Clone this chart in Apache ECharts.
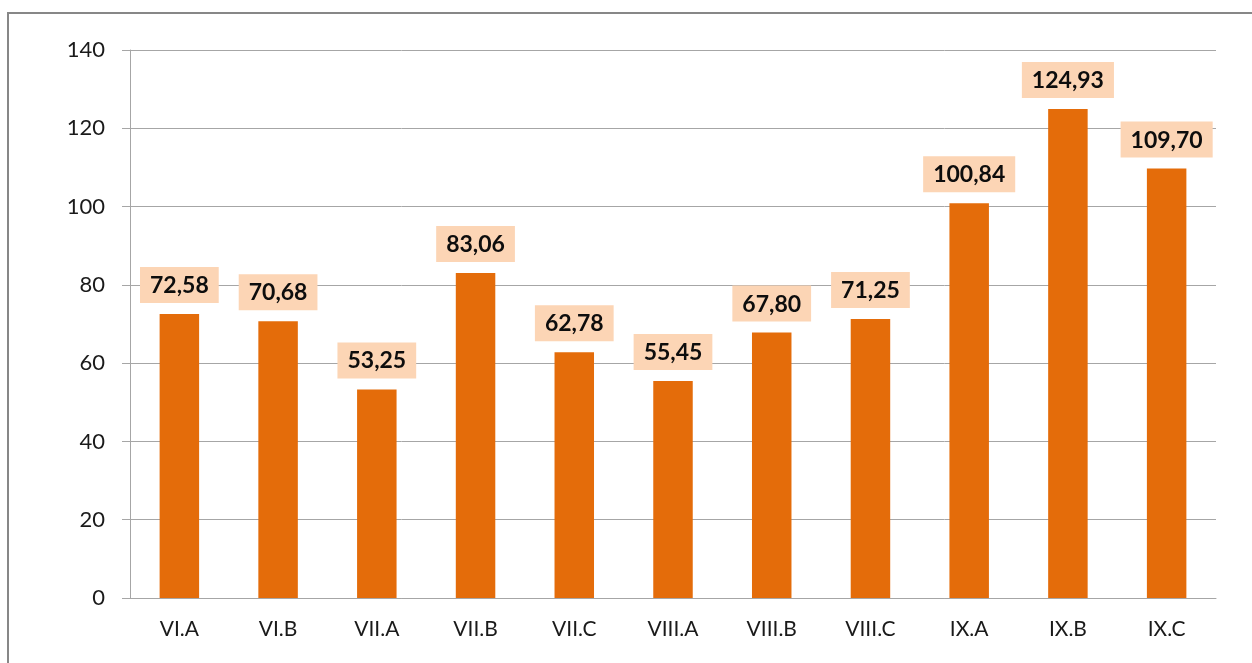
<!DOCTYPE html>
<html>
<head>
<meta charset="utf-8">
<script src="https://cdn.jsdelivr.net/npm/echarts@6/dist/echarts.min.js"></script>
<style>
  html, body { margin: 0; padding: 0; background: #fff; }
  #chart { width: 1252px; height: 663px; }
</style>
</head>
<body>
<div id="chart"></div>
<script>
const categories = ['VI.A', 'VI.B', 'VII.A', 'VII.B', 'VII.C', 'VIII.A', 'VIII.B', 'VIII.C', 'IX.A', 'IX.B', 'IX.C']
const values = [72.58, 70.68, 53.25, 83.06, 62.78, 55.45, 67.80, 71.25, 100.84, 124.93, 109.70]
const yTicks = [0, 20, 40, 60, 80, 100, 120, 140]

const font = 'Lato, "Open Sans", sans-serif'
const chart = echarts.init(document.getElementById('chart'))

chart.setOption({
  animation: false,
  graphic: [{
    type: 'rect',
    shape: { x: 8, y: 13, width: 1400, height: 800 },
    style: { fill: 'none', stroke: '#878787', lineWidth: 2 },
    silent: true
  }],
  grid: { left: 130, right: 36, top: 50, bottom: 65 },
  xAxis: {
    type: 'category',
    data: categories,
    axisLine: { lineStyle: { color: '#a6a6a6', width: 1 } },
    axisTick: { length: 8, lineStyle: { color: '#a6a6a6' } },
    axisLabel: { margin: 21, fontSize: 21, color: '#1a1a1a', fontFamily: font }
  },
  yAxis: {
    type: 'value',
    min: yTicks[0],
    max: yTicks[yTicks.length - 1],
    interval: 20,
    axisLine: { show: true, lineStyle: { color: '#a6a6a6', width: 1 } },
    axisTick: { show: true, length: 8, lineStyle: { color: '#a6a6a6' } },
    splitLine: { lineStyle: { color: '#a6a6a6', width: 1 } },
    axisLabel: { margin: 25, fontSize: 22, color: '#1a1a1a', fontFamily: font }
  },
  series: [{
    type: 'bar',
    data: values,
    barWidth: '40%',
    itemStyle: { color: '#E46C0A' },
    label: {
      show: true,
      position: 'top',
      distance: 11,
      formatter: p => p.value.toFixed(2).replace('.', ','),
      fontFamily: font,
      fontWeight: 'bold',
      fontSize: 23,
      color: '#0d0d0d',
      backgroundColor: '#FCD5B5',
      padding: [7, 10, 6, 10]
    }
  }]
})
</script>
</body>
</html>
